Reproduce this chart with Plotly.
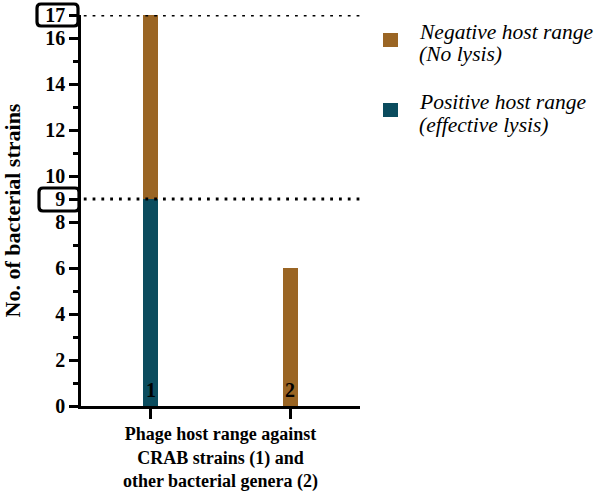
import plotly.graph_objects as go

categories = [0, 1]
cat_labels = ["1", "2"]
positive = [9, 0]
negative = [8, 6]
legend_lines = [["Negative host range", "(No lysis)"], ["Positive host range", "(effective lysis)"]]
major_ticks = [0, 2, 4, 6, 8, 9, 10, 12, 14, 16, 17]
minor_ticks = [1, 3, 5, 7, 11, 13, 15]
ref_lines = [17, 9]

TEAL = "#0B4C5E"
BROWN = "#9A6524"
SERIF = "Liberation Serif"

W, H = 598, 492
ML, MR, MT, MB = 81, 238, 15, 86
PW, PH = W - ML - MR, H - MT - MB


def px2paper(px, py):
    return (px - ML) / PW, (H - MB - py) / PH


fig = go.Figure()
fig.add_trace(go.Bar(x=categories, y=positive, name="Positive host range (effective lysis)",
                     marker_color=TEAL, marker_line_width=0, width=0.108))
fig.add_trace(go.Bar(x=categories, y=negative, name="Negative host range (No lysis)",
                     marker_color=BROWN, marker_line_width=0, width=0.108))

# dotted reference lines
for v in ref_lines:
    fig.add_shape(type="line", xref="paper", x0=0.01, x1=1, yref="y", y0=v, y1=v,
                  line=dict(color="black", width=2.8, dash="2.8px,6px"), layer="above")

# rounded boxes around highlighted tick labels
def rbox(x0p, x1p, y0p, y1p, rpx=4):
    (x0, y1), (x1, y0) = px2paper(x0p, y0p), px2paper(x1p, y1p)
    rx, ry = rpx / PW, rpx / PH
    return (f"M {x0+rx},{y1} L {x1-rx},{y1} Q {x1},{y1} {x1},{y1-ry} "
            f"L {x1},{y0+ry} Q {x1},{y0} {x1-rx},{y0} L {x0+rx},{y0} "
            f"Q {x0},{y0} {x0},{y0+ry} L {x0},{y1-ry} Q {x0},{y1} {x0+rx},{y1} Z")

fig.add_shape(type="path", xref="paper", yref="paper", path=rbox(37, 78, 4, 26),
              line=dict(color="black", width=3.2), layer="above")
fig.add_shape(type="path", xref="paper", yref="paper", path=rbox(39, 79, 188, 211),
              line=dict(color="black", width=3.2), layer="above")

for c, lab in zip(categories, cat_labels):
    fig.add_annotation(x=c, y=0, text=f"<b>{lab}</b>", showarrow=False, yanchor="bottom",
                       yshift=3, font=dict(family=SERIF, size=20, color="black"))

# manual legend (negative first, like the reference)
legend_colors = [BROWN, TEAL]
sq_tops = [33, 103]
line_centers = [[32, 54], [102, 124.5]]
for col, top, lines, centers in zip(legend_colors, sq_tops, legend_lines, line_centers):
    x0, y1 = px2paper(383, top)
    x1, y0 = px2paper(398, top + 14)
    fig.add_shape(type="rect", xref="paper", yref="paper", x0=x0, x1=x1, y0=y0, y1=y1,
                  fillcolor=col, line=dict(width=0))
    for txt, cy in zip(lines, centers):
        xa, ya = px2paper(417, cy)
        fig.add_annotation(xref="paper", yref="paper", x=xa, y=ya, text=txt, showarrow=False,
                           xanchor="left", yanchor="middle",
                           font=dict(family=SERIF, size=21.5, color="black", style="italic"))

fig.update_layout(
    width=W, height=H,
    margin=dict(l=ML, r=MR, t=MT, b=MB, autoexpand=False),
    plot_bgcolor="white", paper_bgcolor="white",
    barmode="stack",
    showlegend=False,
    xaxis=dict(range=[-0.5, 1.5], tickvals=categories, ticktext=["", ""], ticks="outside",
               ticklen=10, tickwidth=2.5, tickcolor="black", showline=True, linecolor="black",
               linewidth=2.5, showgrid=False, zeroline=False, automargin=False,
               title=dict(text="<b>Phage host range against<br>CRAB strains (1) and<br>other bacterial genera (2)</b>",
                          font=dict(family=SERIF, size=18, color="black"), standoff=10)),
    yaxis=dict(range=[0, 17], tickvals=major_ticks, ticks="outside", ticklen=9, tickwidth=2.5,
               tickcolor="black", showline=True, linecolor="black", linewidth=2.5,
               showgrid=False, zeroline=False, automargin=False,
               tickfont=dict(family=SERIF, size=20, color="black", weight="bold"),
               minor=dict(tickvals=minor_ticks, ticks="outside", ticklen=5, tickwidth=2.5,
                          tickcolor="black", showgrid=False),
               title=dict(text="<b>No. of bacterial strains</b>",
                          font=dict(family=SERIF, size=22, color="black"), standoff=30)),
)

fig.write_html("out.html")
